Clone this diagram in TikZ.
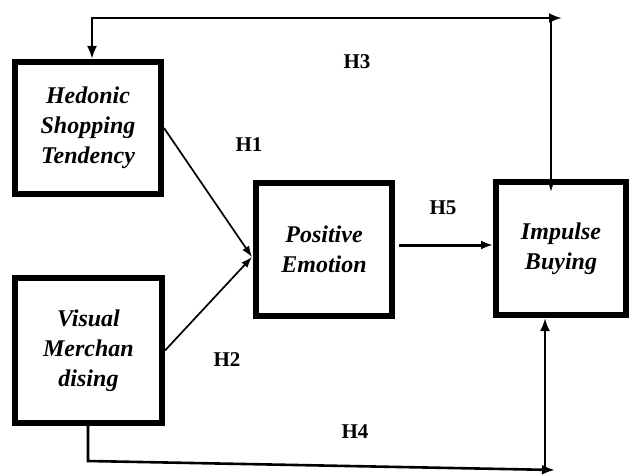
\documentclass[tikz,border=0pt]{standalone}
\usepackage{fontspec}
\setmainfont{Liberation Serif}
\usetikzlibrary{arrows.meta,calc}
\tikzset{
  varbox/.style={draw=black, line width=6pt, align=center, inner sep=0pt,
    font=\fontsize{24}{30}\selectfont\bfseries\itshape},
  hlabel/.style={font=\fontsize{21}{24}\selectfont\bfseries, inner sep=0pt},
  longline/.style={line width=2.6pt},
  bigtip/.style={-{Latex[length=13pt,width=10pt]}},
  thinarrow/.style={line width=1.7pt,-{Latex[length=11pt,width=8pt]}},
}
\begin{document}
\begin{tikzpicture}[x=1pt,y=1pt]
\useasboundingbox (0,0) rectangle (629,475);
\node[varbox, minimum width=146pt, minimum height=132pt] (hed) at (88,347) {Hedonic\\Shopping\\Tendency};
\node[varbox, minimum width=147pt, minimum height=145pt] (vis) at (88.5,124.5) {Visual\\Merchan\\dising};
\node[varbox, minimum width=136pt, minimum height=133pt] (pos) at (324,225.5) {Positive\\Emotion};
\node[varbox, minimum width=130pt, minimum height=133pt] (imp) at (561,226.5) {Impulse\\Buying};
% H3 path
\coordinate (tl) at (92,457);
\coordinate (tr) at (562,457);
\coordinate (tv) at (551,457);
\coordinate (tend) at (551,283);
\draw[longline, {Latex[length=13pt,width=10pt]}-{Latex[length=13pt,width=10pt]}] (hed.north -| tl) -- (tl) -- (tr);
\draw[longline, bigtip] (tv) -- (tend);
% H4 path
\coordinate (bl) at (88,14);
\coordinate (br) at (555,5);
\coordinate (bv) at (545,5);
\draw[longline, bigtip] (vis.south -| bl) -- (bl) -- (br);
\draw[longline, bigtip] (bv) -- (imp.south -| bv);
% H1, H2
\coordinate (conv) at (252,218);
\draw[thinarrow] (hed.east) -- (conv);
\draw[thinarrow] (vis.east) -- (conv);
% H5
\coordinate (h5) at (0,230);
\draw[line width=3pt, -{Latex[length=12pt,width=9pt]}] ([xshift=4pt]pos.east |- h5) -- (imp.west |- h5);
% labels
\node[hlabel] (l3) at (357,413) {H3};
\node[hlabel] (l1) at (249,330) {H1};
\node[hlabel] (l2) at (227,115) {H2};
\node[hlabel] (l4) at (355,43) {H4};
\node[hlabel] (l5) at (443,267) {H5};
\end{tikzpicture}
\end{document}
